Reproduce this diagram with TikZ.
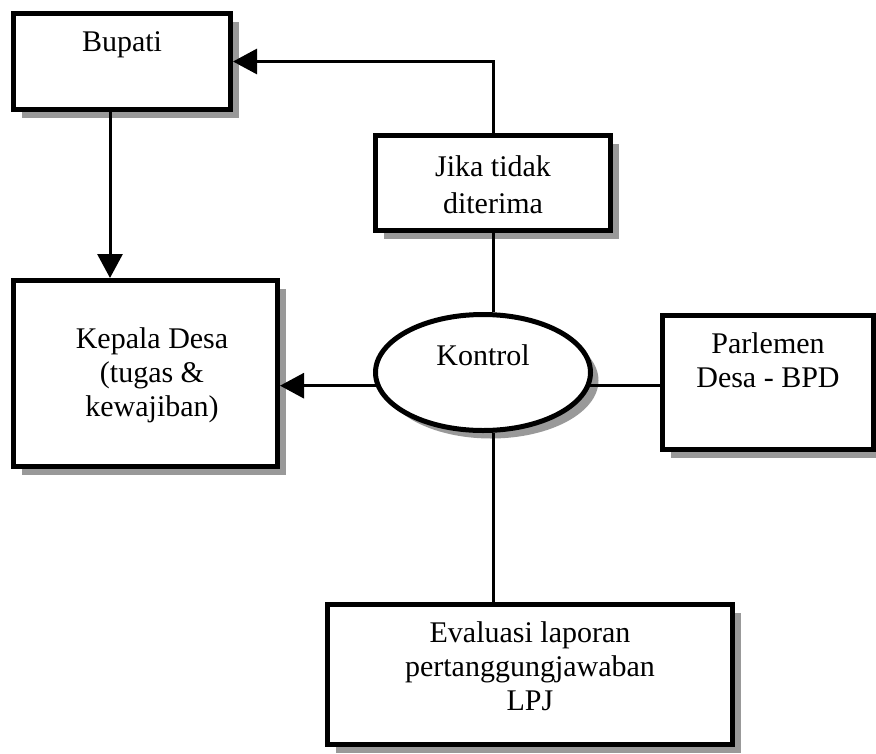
\documentclass[tikz,border=0pt]{standalone}
\usepackage{fontspec}
\setmainfont{Liberation Serif}
\usepackage{tikz}
\usetikzlibrary{arrows.meta,shapes.geometric,shadows}

\begin{document}
\begin{tikzpicture}[x=1pt,y=-1pt,
    box/.style={draw, line width=5pt, fill=white, rectangle, inner sep=0pt,
      drop shadow={shadow xshift=8pt, shadow yshift=-8pt, fill=black!40, opacity=1}},
    oval/.style={box, ellipse},
    txt/.style={align=center, inner sep=0pt, font=\fontsize{30}{34}\selectfont},
    line/.style={line width=3pt},
    arr/.style={line, -{Triangle[length=24pt,width=25pt]}}]
    \useasboundingbox (0,0) rectangle (876,753);
    % boxes
    \node[box, minimum width=217pt, minimum height=96pt] (bupati) at (122,61.5) {};
    \node[box, minimum width=235pt, minimum height=95pt] (jika) at (493,183) {};
    \node[box, minimum width=264pt, minimum height=186pt] (kepala) at (145.5,373.5) {};
    \node[oval, minimum width=215pt, minimum height=116pt] (kontrol) at (483,372.5) {};
    \node[box, minimum width=211pt, minimum height=134pt] (parlemen) at (768,382.5) {};
    \node[box, minimum width=405pt, minimum height=140pt] (evaluasi) at (530,674.5) {};
    % texts
    \node[txt] (bupati-lbl) at ([yshift=16.5pt]bupati.center) {Bupati};
    \node[txt, font=\fontsize{30}{37}\selectfont] (jika-lbl) at ([yshift=-2pt]jika.center) {Jika tidak\\diterima};
    \node[txt] (kepala-lbl) at ([xshift=6.5pt,yshift=-1.5pt]kepala.center) {Kepala Desa\\(tugas \&\\kewajiban)};
    \node[txt] (kontrol-lbl) at ([yshift=17.5pt]kontrol.center) {Kontrol};
    \node[txt] (parlemen-lbl) at ([yshift=22.5pt]parlemen.center) {Parlemen\\Desa - BPD};
    \node[txt] (evaluasi-lbl) at ([yshift=8.5pt]evaluasi.center) {Evaluasi laporan\\pertanggungjawaban\\LPJ};
    % connectors
    \draw[arr] (jika.north) |- (bupati.east);
    \draw[arr] ([xshift=-12pt]bupati.south) -- ([xshift=-12pt]bupati.south |- kepala.north);
    \draw[line] (jika.south) -- (jika.south |- kontrol.north);
    \draw[arr] (kontrol.187) -- (kontrol.187 -| kepala.east);
    \draw[line] (kontrol.353) -- (kontrol.353 -| parlemen.west);
    \draw[line] (jika.south |- kontrol.south) -- (jika.south |- evaluasi.north);
\end{tikzpicture}
\end{document}
